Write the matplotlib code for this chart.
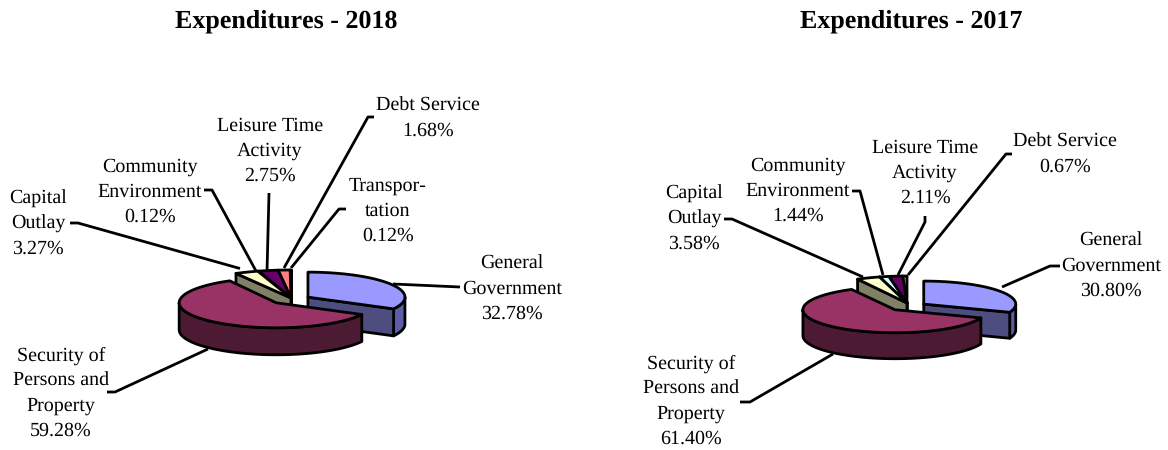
import numpy as np
import matplotlib
matplotlib.use("Agg")
import matplotlib.pyplot as plt
from matplotlib.patches import Polygon

plt.rcParams['font.family'] = ['Liberation Serif', 'DejaVu Serif']
plt.rcParams['text.hinting'] = 'no_hinting'
plt.rcParams['text.hinting_factor'] = 1

categories_2018 = ["General\nGovernment", "Security of\nPersons and\nProperty", "Capital\nOutlay",
                   "Community\nEnvironment", "Leisure Time\nActivity", "Debt Service", "Transpor-\ntation"]
values_2018 = [32.78, 59.28, 3.27, 0.12, 2.75, 1.68, 0.12]
categories_2017 = ["General\nGovernment", "Security of\nPersons and\nProperty", "Capital\nOutlay",
                   "Community\nEnvironment", "Leisure Time\nActivity", "Debt Service"]
values_2017 = [30.80, 61.40, 3.58, 1.44, 2.11, 0.67]

top_colors = ["#9999FF", "#993366", "#FFFFCC", "#CCFFFF", "#660066", "#FF8080", "#0066CC"]
side_colors = ["#4D4D80", "#4D1A33", "#808066", "#668080", "#330033", "#804040", "#003366"]
rim_colors = ["#5C5CA8", "#4D1A33", "#808066", "#668080", "#330033", "#804040", "#003366"]
explode = [0.3, 0.1]

fig = plt.figure(figsize=(11.68, 4.5), dpi=100)
ax = fig.add_axes([0, 0, 1, 1])
ax.set_xlim(0, 1168)
ax.set_ylim(450, 0)
ax.axis("off")
LW = 2.0


def draw_pie(values, cx, cy, rx, ry, depth, back):
    total = sum(values)
    edges = np.concatenate([[0], np.cumsum(values)]) / total * 360
    # back wedges from right to left, then the large front wedges
    order = list(range(len(values) - 1, 1, -1)) + [0, 1]
    for i in order:
        a0, a1 = edges[i], edges[i + 1]
        mid = np.radians((a0 + a1) / 2)
        if i < 2:
            ox = cx + explode[i] * rx * np.sin(mid)
            oy = cy - explode[i] * ry * np.cos(mid)
            wx, wy = rx, ry
        else:
            ox, oy, wx, wy = back
        px = lambda a: ox + wx * np.sin(np.radians(a))
        py = lambda a: oy - wy * np.cos(np.radians(a))
        z = 5
        # outer rim, front part only
        lo, hi = max(a0, 90), min(a1, 270)
        if hi > lo:
            t = np.linspace(lo, hi, 80)
            pts = np.r_[np.c_[px(t), py(t)], np.c_[px(t[::-1]), py(t[::-1]) + depth]]
            ax.add_patch(Polygon(pts, fc=rim_colors[i], ec="k", lw=LW, joinstyle="round", zorder=z))
        # radial cut faces turned to the viewer
        for a, show in ((a0, np.sin(np.radians(a0)) < 0), (a1, np.sin(np.radians(a1)) > 0)):
            if show:
                pts = [(ox, oy), (px(a), py(a)), (px(a), py(a) + depth), (ox, oy + depth)]
                ax.add_patch(Polygon(pts, fc=side_colors[i], ec="k", lw=LW, joinstyle="round", zorder=z))
        t = np.linspace(a0, a1, 120)
        pts = np.r_[[(ox, oy)], np.c_[px(t), py(t)]]
        ax.add_patch(Polygon(pts, fc=top_colors[i], ec="k", lw=LW, joinstyle="round", zorder=z))


def leader(points):
    xs, ys = zip(*points)
    ax.plot(xs, ys, color="k", lw=LW, solid_capstyle="butt", solid_joinstyle="round", zorder=3)


def label(cat, val, x, y):
    ax.text(x, y, f"{cat}\n{val:.2f}%", ha="center", va="center", fontsize=14.5,
            linespacing=1.49, color="k", zorder=6)


ax.text(286, 21, "Expenditures - 2018", ha="center", va="center", fontsize=18.9, fontweight="bold")
ax.text(911, 21, "Expenditures - 2017", ha="center", va="center", fontsize=18.9, fontweight="bold")

draw_pie(values_2018, 283, 301, 97, 25, 27, back=(291, 298, 115, 28))
draw_pie(values_2017, 901, 308, 92, 23, 26, back=(907, 303, 105, 27))

lines_2018 = [
    [(393, 284), (460, 287)],
    [(208, 349), (115, 392), (107, 392)],
    [(240, 268.5), (78, 223), (70, 223)],
    [(256, 271), (212, 190), (204, 190)],
    [(267, 272), (269, 193)],
    [(284, 268), (368, 117), (374, 117)],
    [(291, 268), (339, 209), (346, 209)],
]
pos_2018 = [(512, 289), (61, 393), (38, 224), (150, 192), (270, 151), (428, 118), (388, 211)]
lines_2017 = [
    [(1002, 287), (1050, 266), (1060, 266)],
    [(833, 354), (750, 402), (740, 402)],
    [(863, 277), (732, 219), (724, 219)],
    [(883, 275), (860, 191), (852, 191)],
    [(898, 275), (925, 222), (925, 216)],
    [(908, 275), (1006, 154), (1012, 154)],
]
pos_2017 = [(1111, 266), (691, 401), (694, 219), (798, 191), (925, 173), (1065, 154)]

for ln in lines_2018 + lines_2017:
    leader(ln)
for c, v, p in zip(categories_2018, values_2018, pos_2018):
    label(c, v, *p)
for c, v, p in zip(categories_2017, values_2017, pos_2017):
    label(c, v, *p)

fig.savefig("out.png", dpi=100)
